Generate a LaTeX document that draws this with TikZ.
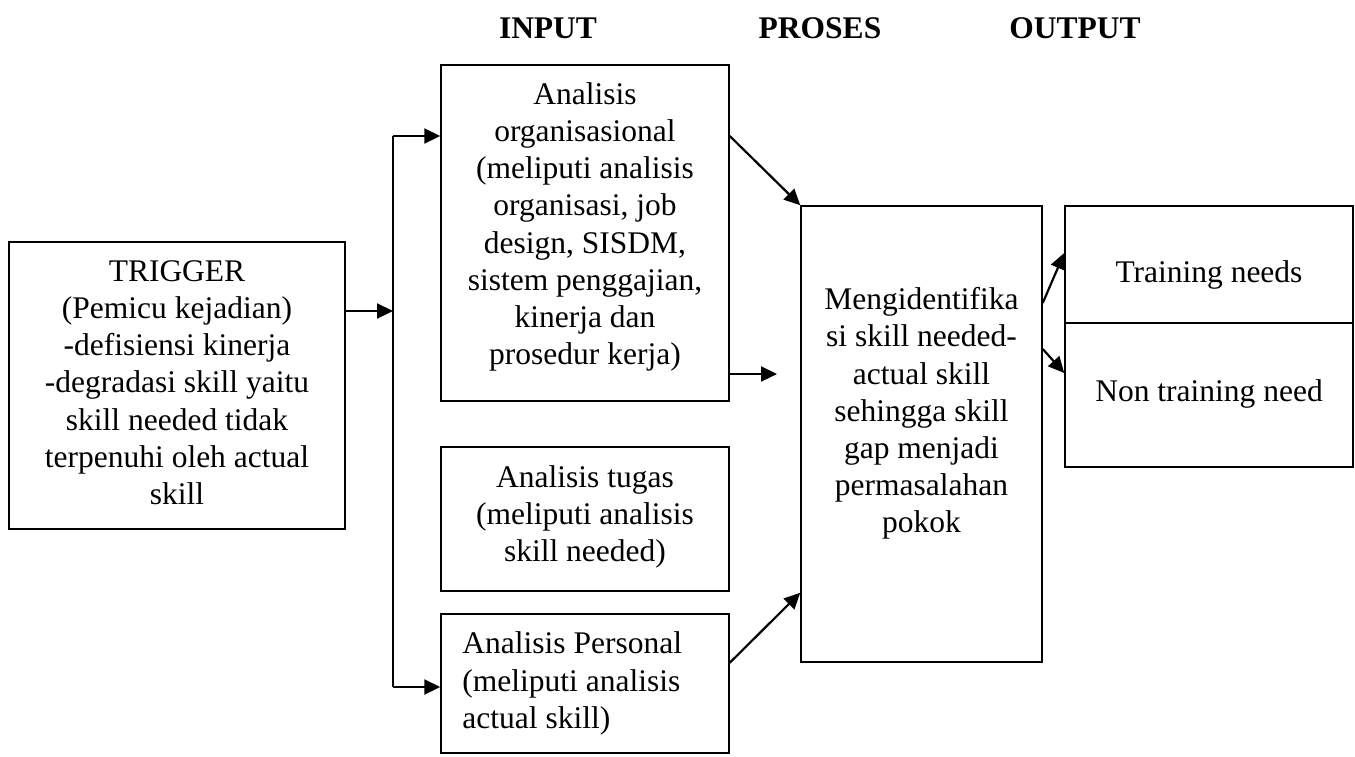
\documentclass[tikz,border=0pt]{standalone}
\usepackage{fontspec}
\setmainfont{Liberation Serif}
\usetikzlibrary{arrows.meta,positioning}

\begin{document}
\begin{tikzpicture}[
    x=1pt, y=-1pt,
    box/.style={draw, line width=1.5pt, inner sep=0pt},
    txt/.style={align=center, inner sep=0pt, font=\fontsize{31.5}{37.2}\selectfont},
    head/.style={txt, font=\fontsize{31.5}{37.2}\selectfont\bfseries},
    arrow/.style={-{Triangle[length=16pt, width=15pt]}, line width=2.2pt},
    link/.style={line width=1.8pt}
]
\useasboundingbox (0,0) rectangle (1355,756);

% Column headers
\node[head, anchor=base] (input) at (548,38.5) {INPUT};
\node[head, anchor=base] (proses) at (820,38.5) {PROSES};
\node[head, anchor=base] (output) at (1075,38.5) {OUTPUT};

% Trigger
\node[box, minimum width=336pt, minimum height=287pt] (trigger) at (177,385.5) {};
\node[txt, below=19pt of trigger.north] (trigtext) {TRIGGER\\(Pemicu kejadian)\\-defisiensi kinerja\\-degradasi skill yaitu\\skill needed tidak\\terpenuhi oleh actual\\skill};

% Input boxes
\node[box, minimum width=288pt, minimum height=336pt] (org) at (585,233) {};
\node[txt, below=18pt of org.north] (orgtext) {Analisis\\organisasional\\(meliputi analisis\\organisasi, job\\design, SISDM,\\sistem penggajian,\\kinerja dan\\prosedur kerja)};

\node[box, minimum width=288pt, minimum height=144pt] (tugas) at (585,519) {};
\node[txt, below=19pt of tugas.north] (tugastext) {Analisis tugas\\(meliputi analisis\\skill needed)};

\node[box, minimum width=288pt, minimum height=139pt] (personal) at (585,683.5) {};
\node[txt, align=left, below right=18.5pt and 22pt of personal.north west] (personaltext) {Analisis Personal\\(meliputi analisis\\actual skill)};

% Proses
\node[box, minimum width=241pt, minimum height=456pt] (mengid) at (921.5,434) {};
\node[txt, below=82pt of mengid.north] (mengidtext) {Mengidentifika\\si skill needed-\\actual skill\\sehingga skill\\gap menjadi\\permasalahan\\pokok};

% Output
\node[box, minimum width=288pt, minimum height=117pt] (training) at (1209,264.5) {};
\node[txt, anchor=base] (trainingtext) at ([yshift=-17.5pt]training.center) {Training needs};
\node[box, minimum width=288pt, minimum height=144pt] (nontraining) at (1209,395) {};
\node[txt, anchor=base] (nontrainingtext) at ([yshift=-6pt]nontraining.center) {Non training need};

% Connectors
\coordinate (split) at (393,311);
\coordinate (splittop) at (393,136);
\coordinate (splitbot) at (393,687);
\coordinate (gap) at (777,374);

\draw[arrow] (trigger.east |- split) -- (split);
\draw[link] (splittop) -- (splitbot);
\draw[arrow] (splittop) -- (splittop -| org.west);
\draw[arrow] (splitbot) -- (splitbot -| personal.west);

\draw[arrow] (org.east |- splittop) -- (mengid.north west);
\draw[arrow] (org.east |- gap) -- (gap);
\draw[arrow] (personal.east |- mengid.south west) -- ([yshift=70pt]mengid.south west);

\draw[arrow] ([yshift=131pt]mengid.east) -- ([yshift=11.5pt]training.west);
\draw[arrow] ([yshift=85pt]mengid.east) -- ([yshift=22pt]nontraining.west);

\end{tikzpicture}
\end{document}
